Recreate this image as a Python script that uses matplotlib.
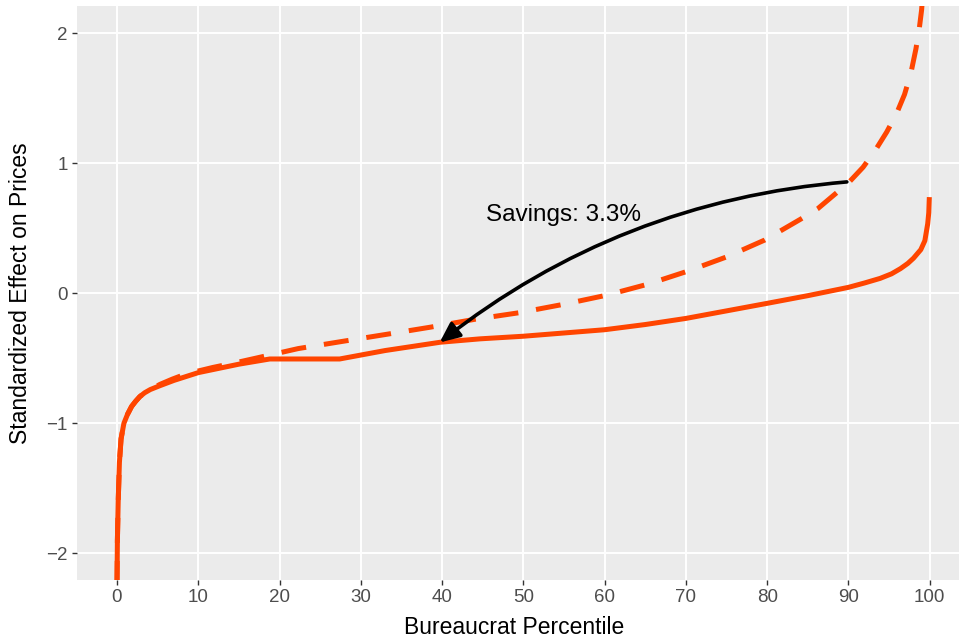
import matplotlib
matplotlib.use("Agg")
import matplotlib.pyplot as plt

# Data
pct_solid = [0, 0.05, 0.15, 0.3, 0.5, 0.85, 1.3, 1.8, 2.3, 2.8, 3.4, 4.1, 5.3, 7, 10,
             15, 18.8, 27.4, 33, 39.8, 44.7, 50, 55, 60, 65, 70, 75, 80, 85, 90, 92,
             93.9, 95.3, 96.4, 97.3, 98, 98.9, 99.4, 99.75, 99.88, 99.95]
eff_solid = [-2.25, -1.9, -1.6, -1.3, -1.12, -1.0, -0.93, -0.87, -0.83, -0.795, -0.765,
             -0.74, -0.71, -0.67, -0.61, -0.545, -0.505, -0.505, -0.44, -0.376, -0.35,
             -0.33, -0.305, -0.28, -0.24, -0.193, -0.135, -0.077, -0.018, 0.046, 0.08,
             0.115, 0.15, 0.19, 0.23, 0.27, 0.336, 0.405, 0.535, 0.62, 0.74]

pct_dashed = [0, 0.05, 0.15, 0.3, 0.5, 0.85, 1.3, 1.8, 2.3, 2.8, 3.4, 4.1, 5.3, 6.8,
              8.5, 11.8, 14.5, 17, 22.3, 27.7, 33.2, 38.6, 44, 49.4, 54.9, 60.2, 65.3,
              70.2, 75, 79.7, 84.1, 86.2, 88, 90, 91.8, 93.3, 94.7, 95.9, 96.9, 97.7,
              98.3, 98.7, 99, 99.5]
eff_dashed = [-2.25, -1.9, -1.6, -1.3, -1.12, -1.0, -0.93, -0.87, -0.83, -0.795, -0.765,
              -0.74, -0.70, -0.66, -0.62, -0.57, -0.535, -0.50, -0.425, -0.37, -0.315,
              -0.26, -0.2, -0.15, -0.085, -0.015, 0.07, 0.17, 0.28, 0.41, 0.57, 0.65,
              0.745, 0.85, 0.97, 1.1, 1.24, 1.38, 1.53, 1.7, 1.88, 2.03, 2.18, 2.6]

arrow_start = (89.8, 0.857)
arrow_end = (39.7, -0.378)
label_pos = (54.9, 0.60)
label_text = "Savings: 3.3%"

x_ticks = list(range(0, 101, 10))
y_ticks = [-2, -1, 0, 1, 2]

plt.rcParams["font.family"] = ["Liberation Sans", "DejaVu Sans"]

fig = plt.figure(figsize=(9.59, 6.44), dpi=100)
ax = fig.add_axes([77 / 959, 64 / 644, 882 / 959, 574 / 644])
ax.set_facecolor("#EBEBEB")
for s in ax.spines.values():
    s.set_visible(False)

ax.grid(True, color="white", linewidth=1.4)
ax.set_axisbelow(True)

orange = "#FF4500"
ax.plot(pct_solid, eff_solid, color=orange, linewidth=3.6, solid_capstyle="butt",
        solid_joinstyle="round")
ax.plot(pct_dashed, eff_dashed, color=orange, linewidth=3.6, dashes=(5, 3.6),
        dash_capstyle="butt", dash_joinstyle="round")

ax.annotate("", xy=arrow_end, xytext=arrow_start,
            arrowprops=dict(arrowstyle="-|>,head_length=1.0,head_width=0.45",
                            connectionstyle="arc3,rad=0.15", color="black",
                            linewidth=2.6, mutation_scale=12,
                            shrinkA=0, shrinkB=0))
ax.text(label_pos[0], label_pos[1], label_text, fontsize=17.5, ha="center",
        va="center", color="black")

ax.set_xlim(-4.92, 103.6)
ax.set_ylim(-2.205, 2.21)
ax.set_xticks(x_ticks)
ax.set_yticks(y_ticks)
ax.tick_params(axis="both", colors="#333333", length=3.8, width=1.0,
               labelsize=13.5, labelcolor="#4D4D4D", pad=3)

ax.set_xlabel("Bureaucrat Percentile", fontsize=16.5, color="black")
ax.set_ylabel("Standardized Effect on Prices", fontsize=16.5, color="black")
ax.xaxis.set_label_coords(0.496, -0.0836)
ax.xaxis.label.set_va("center")
ax.yaxis.set_label_coords(-0.0646, 0.5)
ax.yaxis.label.set_va("center")

fig.savefig("out.png", dpi=100)
